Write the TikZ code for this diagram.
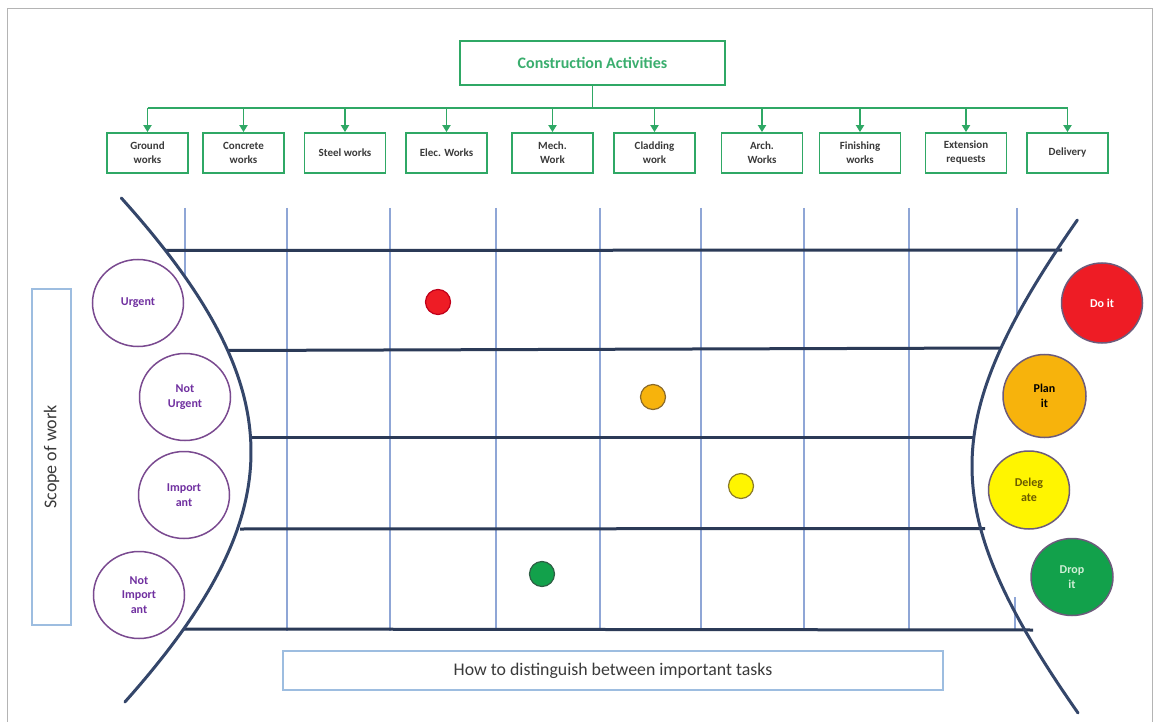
\documentclass[tikz,border=0pt]{standalone}
\usepackage{fontspec}
\setmainfont{Carlito}
\usetikzlibrary{arrows.meta,shapes.geometric}
\definecolor{boxgreen}{HTML}{2FA865}
\definecolor{titlegreen}{HTML}{3AAE6E}
\definecolor{textgray}{HTML}{3A3A3A}
\definecolor{framegray}{HTML}{B4B4B4}
\definecolor{navy}{HTML}{2B3A57}
\definecolor{curvecol}{HTML}{34466A}
\definecolor{gridblue}{HTML}{8FA6D6}
\definecolor{lightblue}{HTML}{9DBDE0}
\definecolor{purpleline}{HTML}{7A4A90}
\definecolor{purpletext}{HTML}{7030A0}
\definecolor{ringline}{HTML}{6C5B7B}
\definecolor{doitred}{HTML}{EE1C25}
\definecolor{planorange}{HTML}{F7B30C}
\definecolor{delyellow}{HTML}{FFF500}
\definecolor{dropgreen}{HTML}{12A14B}
\definecolor{deltext}{HTML}{6B5B00}
\definecolor{droptext}{HTML}{CFEFD6}
\definecolor{dotredline}{HTML}{C0001A}
\definecolor{dotorangeline}{HTML}{8B6A2A}
\definecolor{dotyellowline}{HTML}{8A7A2A}
\definecolor{dotgreenline}{HTML}{2F5F45}
\begin{document}
\begin{tikzpicture}[x=1pt,y=-1pt,
  titlebox/.style={draw=boxgreen, line width=2pt, minimum width=265pt, minimum height=44pt, inner sep=0pt, text=titlegreen, font=\bfseries\fontsize{16}{19}\selectfont},
  catbox/.style={draw=boxgreen, line width=1.8pt, minimum width=81pt, minimum height=40pt, inner sep=0pt, align=center, text=textgray, font=\bfseries\fontsize{11}{14}\selectfont},
  treeline/.style={draw=boxgreen, line width=1.8pt},
  treearrow/.style={draw=boxgreen, line width=1.8pt, -{Triangle[width=8pt,length=7pt]}},
  hline/.style={draw=navy, line width=3pt},
  vline/.style={draw=gridblue, line width=2pt},
  curve/.style={draw=curvecol, line width=3pt, line cap=round},
  scopering/.style={ellipse, draw=purpleline, line width=1.5pt, minimum width=91pt, minimum height=87pt, inner sep=0pt, align=center, text=purpletext, font=\bfseries\fontsize{12}{14.5}\selectfont},
  actring/.style={ellipse, draw=ringline, line width=1.5pt, minimum width=81pt, minimum height=80pt, inner sep=0pt, align=center, font=\bfseries\fontsize{12}{14.5}\selectfont},
  dot/.style={circle, line width=1.2pt, minimum size=25pt, inner sep=0pt},
  labelbox/.style={draw=lightblue, line width=1.8pt, inner sep=0pt, text=textgray, font=\fontsize{17.8}{20}\selectfont}
]
\useasboundingbox (0,0) rectangle (1157,722);
\fill[white] (0,0) rectangle (1157,722);
\draw[framegray, line width=1.5pt] (7.5,730) -- (7.5,8.5) -- (1152.5,8.5) -- (1152.5,730);

% tree
\node[titlebox] (title) at (592.5,63) {Construction Activities};
\node[catbox] (c1) at (147.5,153) {Ground\\works};
\node[catbox] (c2) at (243.5,153) {Concrete\\works};
\node[catbox] (c3) at (345,153) {Steel works};
\node[catbox] (c4) at (446.5,153) {Elec. Works};
\node[catbox] (c5) at (552.5,153) {Mech.\\Work};
\node[catbox] (c6) at (654.5,153) {Cladding\\work};
\node[catbox] (c7) at (762,153) {Arch.\\Works};
\node[catbox] (c8) at (860,153) {Finishing\\works};
\node[catbox] (c9) at (966,153) {Extension\\requests};
\node[catbox] (c10) at (1067.5,153) {Delivery};
\coordinate (busL) at (147.5,108);
\coordinate (busR) at (1067.5,108);
\draw[treeline] (title.south) -- (title.south |- busL);
\draw[treeline] (busL) -- (busR);
\foreach \c in {c1,c2,c3,c4,c5,c6,c7,c8,c9,c10}
  \draw[treearrow] (\c.north |- busL) -- (\c.north);

% grid verticals
\draw[vline] (185,208) -- (185,277);
\foreach \vx in {287,390,496,600,701,804,909}
  \draw[vline] (\vx,208) -- (\vx,631);
\draw[vline] (1017,208) -- (1017,315);
\draw[vline] (1015,597) -- (1015,630);

% grid horizontals
\draw[hline] (165,250.5) -- (1062,250);
\draw[hline] (229,350.5) -- (1001,348);
\draw[hline] (250,437) -- (975,437);
\draw[hline] (240,529) -- (985,528.5);
\draw[hline] (184,629) -- (1033,630);

% curves
\draw[curve] plot[smooth, domain=198:702, samples=60] ({251-418*(sqrt(1+((\x-452)/300)^2)-1)}, \x);
\draw[curve] plot[smooth, domain=220:713, samples=60] ({972+180*(sqrt(1+((\x-466)/200)^2)-1)}, \x);

% left rings
\node[scopering] (urg) at (138,303) {Urgent};
\node[scopering] (nurg) at (185,397) {Not\\Urgent};
\node[scopering] (imp) at (184,495) {Import\\ant};
\node[scopering] (nimp) at (139,595) {Not\\Import\\ant};

% right rings
\node[actring, fill=doitred, text=white] (doit) at (1102,303) {Do it};
\node[actring, fill=planorange, text=black, minimum width=83pt, minimum height=83pt] (planit) at (1044.5,396) {Plan\\it};
\node[actring, fill=delyellow, text=deltext, minimum height=78pt] (deleg) at (1029,490) {Deleg\\ate};
\node[actring, fill=dropgreen, text=droptext, minimum width=82pt, minimum height=77pt] (drop) at (1072,577) {Drop\\it};

% dots
\node[dot, fill=doitred, draw=dotredline] (dred) at (438,302) {};
\node[dot, fill=planorange, draw=dotorangeline] (dorange) at (653,397) {};
\node[dot, fill=delyellow, draw=dotyellowline] (dyellow) at (741,486) {};
\node[dot, fill=dropgreen, draw=dotgreenline] (dgreen) at (542,574) {};

% labels
\node[labelbox, minimum width=39pt, minimum height=336pt] (scope) at (51.5,457) {};
\node[rotate=90, text=textgray, font=\fontsize{18}{20}\selectfont] (scopetext) at (scope.center) {Scope of work};
\node[labelbox, minimum width=660pt, minimum height=39pt] (howto) at (613,670.5) {How to distinguish between important tasks};
\end{tikzpicture}
\end{document}
